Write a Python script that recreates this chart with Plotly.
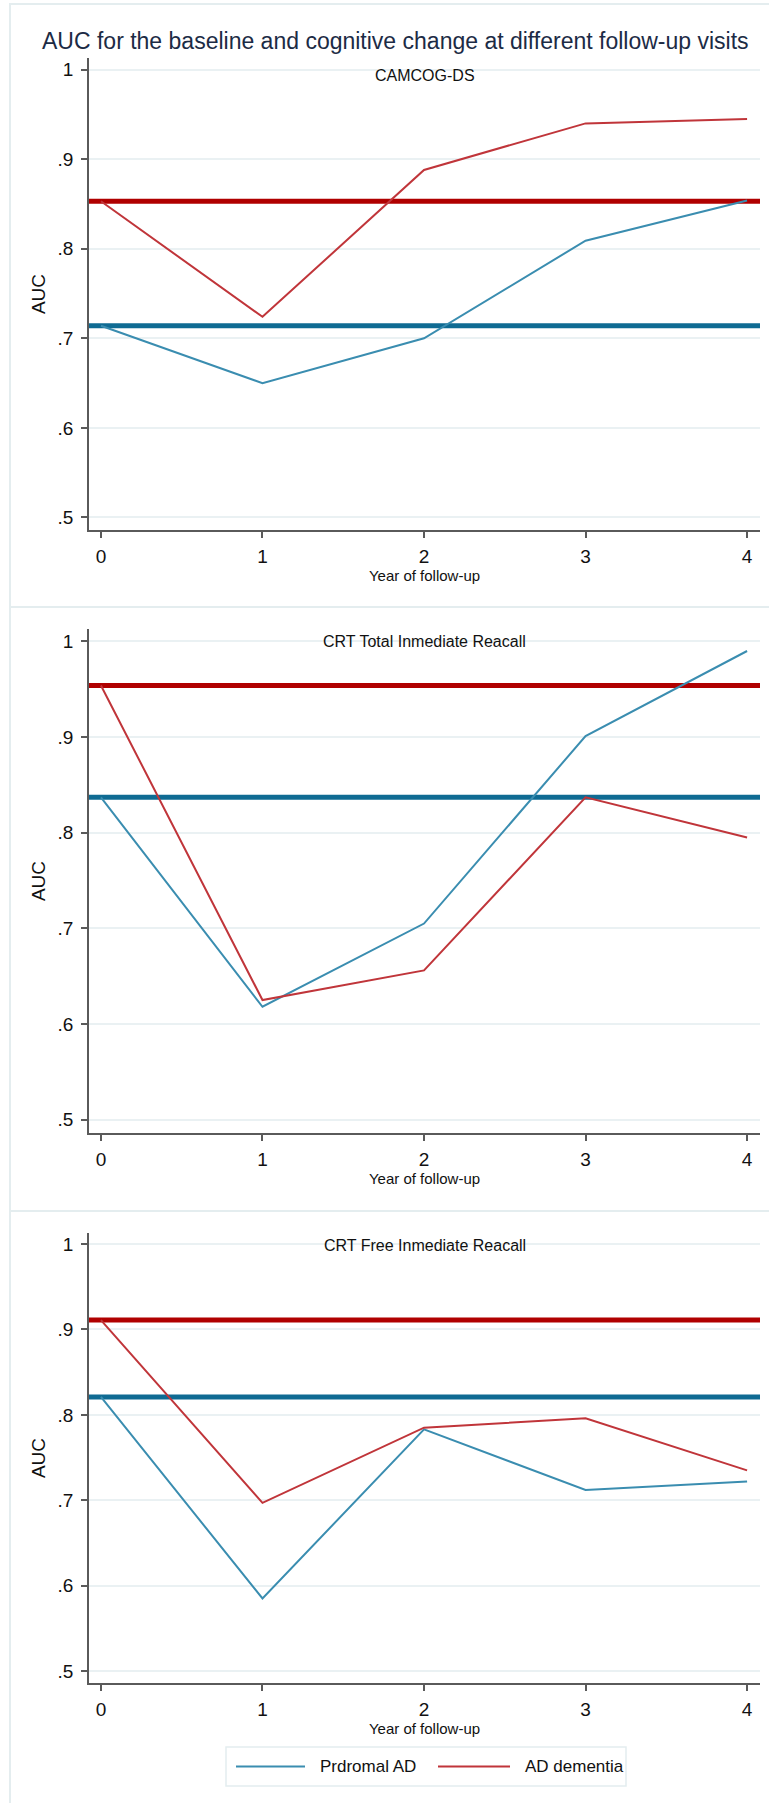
import plotly.graph_objects as go

# Follow-up years (x axis)
years = [0, 1, 2, 3, 4]

# Panel headings
panel_titles = ["CAMCOG-DS", "CRT Total Inmediate Reacall", "CRT Free Inmediate Reacall"]

# AUC at each follow-up year, per measure and diagnostic group
camcog_prodromal = [0.714, 0.650, 0.700, 0.809, 0.854]
camcog_dementia = [0.853, 0.724, 0.888, 0.940, 0.945]
total_prodromal = [0.837, 0.618, 0.705, 0.901, 0.990]
total_dementia = [0.954, 0.625, 0.656, 0.837, 0.795]
free_prodromal = [0.821, 0.585, 0.783, 0.712, 0.722]
free_dementia = [0.911, 0.697, 0.785, 0.796, 0.735]

# Baseline AUC (reference lines), one per panel
baseline_prodromal = [0.714, 0.837, 0.821]
baseline_dementia = [0.853, 0.954, 0.911]

# Y tick labels
y_ticks = [0.5, 0.6, 0.7, 0.8, 0.9, 1.0]
y_ticklabels = [".5", ".6", ".7", ".8", ".9", "1"]

group_names = ["Prdromal AD", "AD dementia"]

W, H = 769, 1803
FONT = "Liberation Sans Narrow, Arial Narrow, Liberation Sans, Arial, sans-serif"
TICK_FONT = "Liberation Sans, Arial, sans-serif"

BLUE_THIN = "#3a8db0"
RED_THIN = "#c0353a"
BLUE_THICK = "#0f6b93"
RED_THICK = "#b00000"
GRID = "#eaf1f3"
AXIS = "#5a5a5a"
FRAME = "#e4edef"
TEXT = "#111111"


def py(px):
    """Convert a pixel row (from top) into paper y."""
    return 1 - px / H


def pxx(px):
    """Convert a pixel column into paper x."""
    return px / W


x_domain = [pxx(89), pxx(760)]
# (top, bottom) pixel rows of each plot area
plot_rows = [(58, 530), (629, 1133), (1233, 1683)]
y_range = [0.486, 1.013]
x_range = [-0.074, 4.08]

series = [
    (camcog_prodromal, camcog_dementia),
    (total_prodromal, total_dementia),
    (free_prodromal, free_dementia),
]

fig = go.Figure()
shapes = []
annotations = []

for i, (prod, dem) in enumerate(series):
    n = "" if i == 0 else str(i + 1)
    xa, ya = "x" + n, "y" + n
    fig.add_trace(go.Scatter(
        x=years, y=prod, mode="lines", name=group_names[0],
        line=dict(color=BLUE_THIN, width=2), xaxis=xa, yaxis=ya,
        showlegend=False,
    ))
    fig.add_trace(go.Scatter(
        x=years, y=dem, mode="lines", name=group_names[1],
        line=dict(color=RED_THIN, width=2), xaxis=xa, yaxis=ya,
        showlegend=False,
    ))

    # Baseline reference lines spanning the plot width
    for val, col in ((baseline_dementia[i], RED_THICK), (baseline_prodromal[i], BLUE_THICK)):
        shapes.append(dict(
            type="line", xref=xa + " domain", yref=ya,
            x0=0, x1=1, y0=val, y1=val,
            line=dict(color=col, width=5), layer="below",
        ))

    top, bottom = plot_rows[i]
    dom = [py(bottom), py(top)]
    axis_common = dict(
        showline=True, linecolor=AXIS, linewidth=1.5,
        ticks="outside", ticklen=6, tickwidth=1.5, tickcolor=AXIS,
        zeroline=False, tickfont=dict(family=TICK_FONT, size=19, color=TEXT),
    )
    fig.update_layout({
        "xaxis" + n: dict(
            domain=x_domain, range=x_range, anchor=ya,
            tickvals=years, ticktext=[str(v) for v in years],
            showgrid=False, ticklabelstandoff=2,
            title=dict(text="Year of follow-up", standoff=0,
                       font=dict(family=FONT, size=15, color=TEXT)),
            **axis_common,
        ),
        "yaxis" + n: dict(
            domain=dom, range=y_range, anchor=xa,
            tickvals=y_ticks, ticktext=y_ticklabels,
            showgrid=True, gridcolor=GRID, gridwidth=1.5,
            ticklabelstandoff=4,
            title=dict(text="AUC", standoff=7,
                       font=dict(family=FONT, size=19, color=TEXT)),
            **axis_common,
        ),
    })

    annotations.append(dict(
        text=panel_titles[i], xref=xa + " domain", x=0.5, yref="paper",
        y=py(top + [18, 12, 12][i]), showarrow=False, xanchor="center", yanchor="middle",
        font=dict(family=FONT, size=16, color=TEXT),
    ))

# Light frames around each panel region
frame_rows = [(4, 607), (607, 1211), (1211, 1810)]
for top, bottom in frame_rows:
    shapes.append(dict(
        type="rect", xref="paper", yref="paper",
        x0=pxx(10), x1=pxx(790), y0=py(bottom), y1=py(top),
        line=dict(color=FRAME, width=2), layer="below",
    ))

# Figure title
annotations.append(dict(
    text="AUC for the baseline and cognitive change at different follow-up visits",
    xref="paper", yref="paper", x=pxx(395), y=py(41), showarrow=False,
    xanchor="center", yanchor="middle",
    font=dict(family=TICK_FONT, size=23, color="#1c2b45"),
))

# Legend box with line keys for the two groups
legend_top, legend_bottom = 1747, 1786
legend_mid = (legend_top + legend_bottom) / 2
shapes.append(dict(
    type="rect", xref="paper", yref="paper",
    x0=pxx(226), x1=pxx(626), y0=py(legend_bottom), y1=py(legend_top),
    line=dict(color=FRAME, width=1.5), fillcolor="white", layer="below",
))
for name, color, (k0, k1), tx in (
    (group_names[0], BLUE_THIN, (236, 305), 318),
    (group_names[1], RED_THIN, (438, 510), 523),
):
    shapes.append(dict(
        type="line", xref="paper", yref="paper",
        x0=pxx(k0), x1=pxx(k1), y0=py(legend_mid), y1=py(legend_mid),
        line=dict(color=color, width=2), layer="above",
    ))
    annotations.append(dict(
        text=name, xref="paper", yref="paper", x=pxx(tx), y=py(legend_mid),
        xanchor="left", yanchor="middle", showarrow=False,
        font=dict(family=FONT, size=17, color=TEXT),
    ))

fig.update_layout(
    width=W, height=H, autosize=False,
    margin=dict(l=0, r=0, t=0, b=0),
    paper_bgcolor="white", plot_bgcolor="white",
    shapes=shapes, annotations=annotations,
    showlegend=False,
)

fig.write_html("out.html")
